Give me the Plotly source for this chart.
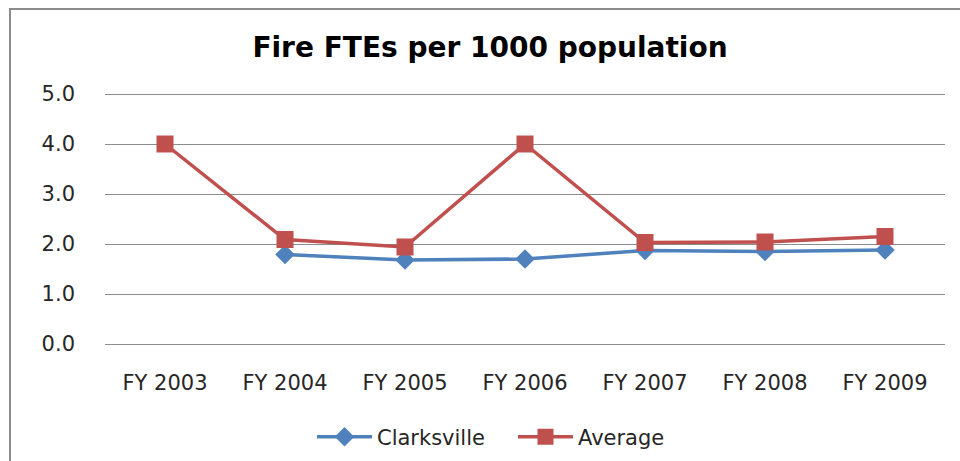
import plotly.graph_objects as go

categories = ["FY 2003", "FY 2004", "FY 2005", "FY 2006", "FY 2007", "FY 2008", "FY 2009"]
clarksville = [None, 1.79, 1.68, 1.70, 1.87, 1.85, 1.88]
average = [4.0, 2.09, 1.94, 4.0, 2.03, 2.04, 2.15]
y_ticks = [0, 1, 2, 3, 4, 5]
y_tick_labels = ["0.0", "1.0", "2.0", "3.0", "4.0", "5.0"]

FONT = "DejaVu Sans, sans-serif"

fig = go.Figure()
fig.add_trace(go.Scatter(
    x=categories, y=clarksville, name="Clarksville", mode="lines+markers",
    line=dict(color="#4F81BD", width=3.5),
    marker=dict(symbol="diamond", size=15, color="#4F81BD"),
    connectgaps=False,
))
fig.add_trace(go.Scatter(
    x=categories, y=average, name="Average", mode="lines+markers",
    line=dict(color="#C0504D", width=3.5),
    marker=dict(symbol="square", size=17, color="#C0504D"),
))

W, H = 960, 461
Y_PAD = 0.06           # keeps the 0.0 and 5.0 gridlines inside the plot area
L, R = 105, 15
ph = 50 * (5 + 2 * Y_PAD)
T = 94 - 50 * Y_PAD
B = H - T - ph
pw = W - L - R

def px_x(x):
    return (x - L) / pw

def px_y(y):
    return 1 - (y - T) / ph

fig.update_layout(
    width=W, height=H,
    margin=dict(l=L, r=R, t=T, b=B, autoexpand=False),
    paper_bgcolor="white", plot_bgcolor="white",
    title=dict(text="<b>Fire FTEs per 1000 population</b>", x=490 / W, xanchor="center",
               y=1 - 47 / H, yanchor="middle",
               font=dict(family=FONT, size=28, color="black")),
    font=dict(family=FONT, size=21, color="#262626"),
    showlegend=True,
    legend=dict(orientation="h", xref="container", yref="container",
                x=312 / W, xanchor="left", y=1 - 437 / H, yanchor="middle",
                font=dict(family=FONT, size=21, color="#262626"),
                entrywidth=131, entrywidthmode="pixels",
                itemwidth=55, traceorder="normal"),
    xaxis=dict(type="category", showgrid=False, showline=False, zeroline=False,
               ticks="", ticklabelstandoff=21, tickfont=dict(size=21),
               range=[-0.5, len(categories) - 0.5]),
    yaxis=dict(range=[-Y_PAD, 5 + Y_PAD], tickvals=y_ticks, ticktext=y_tick_labels,
               showgrid=True, gridcolor="#8C8C8C", gridwidth=1, tickfont=dict(size=21),
               zeroline=False, showline=False, ticks="", ticklabelstandoff=29),
    shapes=[dict(type="rect", xref="paper", yref="paper",
                 x0=px_x(10), x1=px_x(1000), y0=px_y(500), y1=px_y(9),
                 line=dict(color="#8C8C8C", width=2), fillcolor="rgba(0,0,0,0)",
                 layer="below")],
)

fig.write_html("out.html")
